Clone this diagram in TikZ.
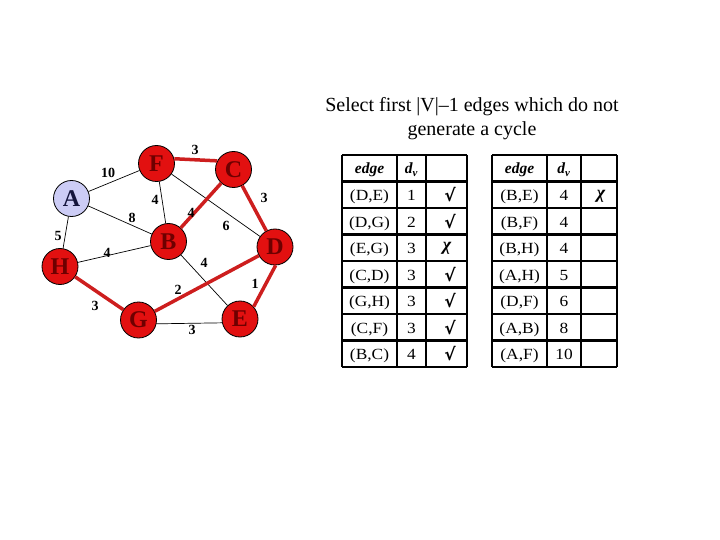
\documentclass[tikz,border=0pt]{standalone}
\usepackage{fontspec}
\setmainfont{Liberation Serif}
\newfontfamily\cellfont{Liberation Serif}[FakeStretch=1.12]
\newfontfamily\radfont{DejaVu Sans}
\definecolor{nodered}{RGB}{226,16,16}
\definecolor{edgered}{RGB}{205,30,30}
\definecolor{letterred}{RGB}{110,0,0}
\definecolor{lav}{RGB}{204,204,245}
\definecolor{navy}{RGB}{20,20,60}
\begin{document}
\begin{tikzpicture}[x=1pt,y=-1pt,
  vtx/.style={circle,draw=black,line width=0.8pt,fill=nodered,minimum size=36pt,inner sep=0pt,
    font=\fontsize{24}{24}\selectfont\bfseries,text=letterred},
  avtx/.style={vtx,fill=lav,text=navy},
  thinedge/.style={draw=black,line width=0.7pt},
  treeedge/.style={draw=edgered,line width=3.5pt},
  wlab/.style={font=\fontsize{14}{14}\selectfont\bfseries,inner sep=0pt},
  cellbox/.style={font=\cellfont\fontsize{15.5}{16}\selectfont,inner sep=0pt,anchor=base},
  hcellbox/.style={font=\fontsize{15.5}{16}\selectfont\bfseries\itshape,inner sep=0pt,anchor=base},
  chk/.style={font=\radfont\fontsize{17}{17}\selectfont\bfseries\itshape,inner sep=0pt},
  chi/.style={font=\fontsize{18}{18}\selectfont\bfseries\itshape,inner sep=0pt},
  tgrid/.style={line width=2.5pt,black},
  ttlstyle/.style={font=\fontsize{20}{24}\selectfont,align=center,inner sep=0pt}]
\useasboundingbox (0,0) rectangle (720,540);
% vertices
\node[avtx] (A) at (71.5,198.5) {A};
\node[vtx] (F) at (156.5,163.5) {F};
\node[vtx] (C) at (233.5,169.5) {C};
\node[vtx] (B) at (168.5,241.5) {B};
\node[vtx] (D) at (275,247) {D};
\node[vtx] (H) at (60,266.5) {H};
\node[vtx] (G) at (138.5,320) {G};
\node[vtx] (E) at (240,319) {E};
% edges
\draw[thinedge] (A) -- (F);
\draw[thinedge] (A) -- (B);
\draw[thinedge] (A) -- (H);
\draw[thinedge] (F) -- (B);
\draw[thinedge] (F) -- (D);
\draw[thinedge] (H) -- (B);
\draw[thinedge] (B) -- (E);
\draw[thinedge] (G.-12) -- (E.192);
\draw[treeedge] (F.15) -- (C.152);
\draw[treeedge] (C) -- (B);
\draw[treeedge] (C) -- (D);
\draw[treeedge] (D) -- (G);
\draw[treeedge] (D.-88) -- (E.42);
\draw[treeedge] (H) -- (G);
% weights
\node[wlab] (wAF) at (108,173) {10};
\node[wlab] (wFC) at (195,150) {3};
\node[wlab] (wFB) at (155,200) {4};
\node[wlab] (wAB) at (132,218) {8};
\node[wlab] (wBC) at (191,213) {4};
\node[wlab] (wCD) at (264,198) {3};
\node[wlab] (wFD) at (226,226) {6};
\node[wlab] (wAH) at (58,236) {5};
\node[wlab] (wHB) at (107,253) {4};
\node[wlab] (wBE) at (204,263) {4};
\node[wlab] (wDG) at (178,290) {2};
\node[wlab] (wDE) at (255,284) {1};
\node[wlab] (wHG) at (95,306) {3};
\node[wlab] (wGE) at (192,330) {3};
% title
\node[ttlstyle] (ttl) at (472,119) {Select first |V|–1 edges which do not\\generate a cycle};
% left table grid
\foreach \yy in {155,181.5,208,234.5,261,287.5,314,340.5,367} \draw[tgrid] (342,\yy) -- (467,\yy);
\foreach \xx in {342,397,426,467} \draw[tgrid] (\xx,155) -- (\xx,367);
% right table grid
\foreach \yy in {155,181.5,208,234.5,261,287.5,314,340.5,367} \draw[tgrid] (492,\yy) -- (617,\yy);
\foreach \xx in {492,547,581,617} \draw[tgrid] (\xx,155) -- (\xx,367);
% left table text
\node[hcellbox] (lh1) at (369.5,174) {edge};
\node[hcellbox] (lh2) at (411.5,174) {d\textsubscript{v}};
\foreach \i/\e/\d in {1/{(D,E)}/1,2/{(D,G)}/2,3/{(E,G)}/3,4/{(C,D)}/3,5/{(G,H)}/3,6/{(C,F)}/3,7/{(B,C)}/4}{
  \node[cellbox] (le\i) at (369.5,174+26.5*\i) {\e};
  \node[cellbox] (ld\i) at (411.5,174+26.5*\i) {\d};
}
\foreach \i in {1,2,4,5,6,7}{
  \node[chk] (lm\i) at (450,168.5+26.5*\i) {√};
}
\node[chi] (lm3) at (447,248.5) {χ};
% right table text
\node[hcellbox] (rh1) at (519.5,174) {edge};
\node[hcellbox] (rh2) at (564,174) {d\textsubscript{v}};
\foreach \i/\e/\d in {1/{(B,E)}/4,2/{(B,F)}/4,3/{(B,H)}/4,4/{(A,H)}/5,5/{(D,F)}/6,6/{(A,B)}/8,7/{(A,F)}/10}{
  \node[cellbox] (re\i) at (519.5,174+26.5*\i) {\e};
  \node[cellbox] (rd\i) at (564,174+26.5*\i) {\d};
}
\node[chi] (rm1) at (601,196) {χ};
\end{tikzpicture}
\end{document}
